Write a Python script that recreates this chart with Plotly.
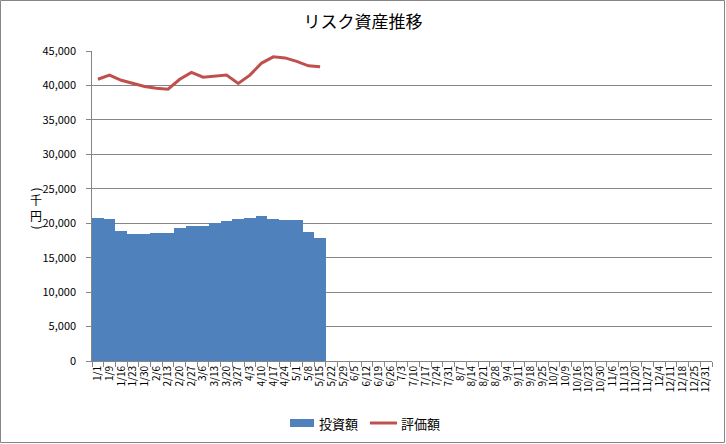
import plotly.graph_objects as go

W, H = 726, 444
L, R, T, B = 92, 14, 51, 83

dates = ['1/1', '1/9', '1/16', '1/23', '1/30', '2/6', '2/13', '2/20', '2/27',
         '3/6', '3/13', '3/20', '3/27', '4/3', '4/10', '4/17', '4/24', '5/1',
         '5/8', '5/15', '5/22', '5/29', '6/5', '6/12', '6/19', '6/26', '7/3',
         '7/10', '7/17', '7/24', '7/31', '8/7', '8/14', '8/21', '8/28', '9/4',
         '9/11', '9/18', '9/25', '10/2', '10/9', '10/16', '10/23', '10/30',
         '11/6', '11/13', '11/20', '11/27', '12/4', '12/11', '12/18', '12/25',
         '12/31']

# 投資額 (千円)
invest = [20800, 20600, 18900, 18450, 18450, 18600, 18600, 19300, 19600,
          19600, 20000, 20300, 20600, 20750, 21050, 20600, 20450, 20450,
          18750, 17850]

# 評価額 (千円)
value = [40900, 41500, 40750, 40300, 39850, 39600, 39450, 40900, 41900,
         41200, 41350, 41500, 40300, 41500, 43250, 44150, 44000, 43500,
         42850, 42700]

FONT = 'Noto Sans CJK JP'
BLUE, RED, GRAY = '#4F81BD', '#C0504D', '#868686'

fig = go.Figure()
fig.add_trace(go.Bar(x=dates[:len(invest)], y=invest, name='投資額',
                     marker=dict(color=BLUE, line=dict(width=0))))
fig.add_trace(go.Scatter(x=dates[:len(value)], y=value, name='評価額',
                         mode='lines', line=dict(color=RED, width=3)))

pw, ph = W - L - R, H - T - B


def px_x(x):
    return (x - L) / pw


def px_y(y):
    return (H - B - y) / ph


# outer chart border
fig.add_shape(type='rect', xref='paper', yref='paper',
              x0=px_x(0.5), x1=px_x(W - 1.5), y0=px_y(H - 1.5), y1=px_y(0.5),
              line=dict(color=GRAY, width=1))

# vertical axis title (千円), written top to bottom
for ch, yy, ang in [('(', 189, 90), ('千', 200, 0), ('円', 215.5, 0), (')', 227, 90)]:
    fig.add_annotation(text=ch, xref='paper', yref='paper', x=px_x(28), y=px_y(yy),
                       showarrow=False, textangle=ang,
                       font=dict(family=FONT, size=12, color='black'))

# legend drawn Excel-style: wide swatch for the bars, short line for the series
fig.add_shape(type='rect', xref='paper', yref='paper',
              x0=px_x(290), x1=px_x(314), y0=px_y(427), y1=px_y(419),
              fillcolor=BLUE, line=dict(width=0))
fig.add_shape(type='line', xref='paper', yref='paper',
              x0=px_x(370), x1=px_x(397), y0=px_y(423), y1=px_y(423),
              line=dict(color=RED, width=3))
for name, xx in [(fig.data[0].name, 317), (fig.data[1].name, 399)]:
    fig.add_annotation(text=name, xref='paper', yref='paper', x=px_x(xx), y=px_y(423),
                       xanchor='left', yanchor='middle', showarrow=False,
                       font=dict(family=FONT, size=13, color='black'))

fig.update_layout(
    width=W, height=H,
    margin=dict(l=L, r=R, t=T, b=B, autoexpand=False),
    paper_bgcolor='white', plot_bgcolor='white',
    title=dict(text='リスク資産推移', x=0.5, xanchor='center',
               y=1 - 22 / H, yanchor='middle',
               font=dict(family=FONT, size=17, color='black')),
    font=dict(family=FONT, size=11, color='black'),
    bargap=0,
    showlegend=False,
    xaxis=dict(type='category', categoryorder='array', categoryarray=dates,
               tickmode='array', tickvals=dates, ticktext=dates,
               range=[-0.5, len(dates) - 0.5], tickangle=-90, automargin=False,
               tickfont=dict(size=10), showline=True, linecolor=GRAY,
               ticks='outside', tickson='boundaries', ticklen=5,
               tickcolor=GRAY, showgrid=False),
    yaxis=dict(range=[0, 45000], dtick=5000, tickformat=',', automargin=False,
               ticksuffix='\u2002\u2009',
               showline=True, linecolor=GRAY, ticks='outside',
               ticklen=5, tickcolor=GRAY, showgrid=True,
               gridcolor=GRAY, gridwidth=1, zeroline=False,
               tickfont=dict(size=11)),
)

# page body has a default 8px margin; drop it so the chart fills the window
fig.write_html('out.html', config={'displayModeBar': False},
               post_script="document.body.style.margin='0';")
